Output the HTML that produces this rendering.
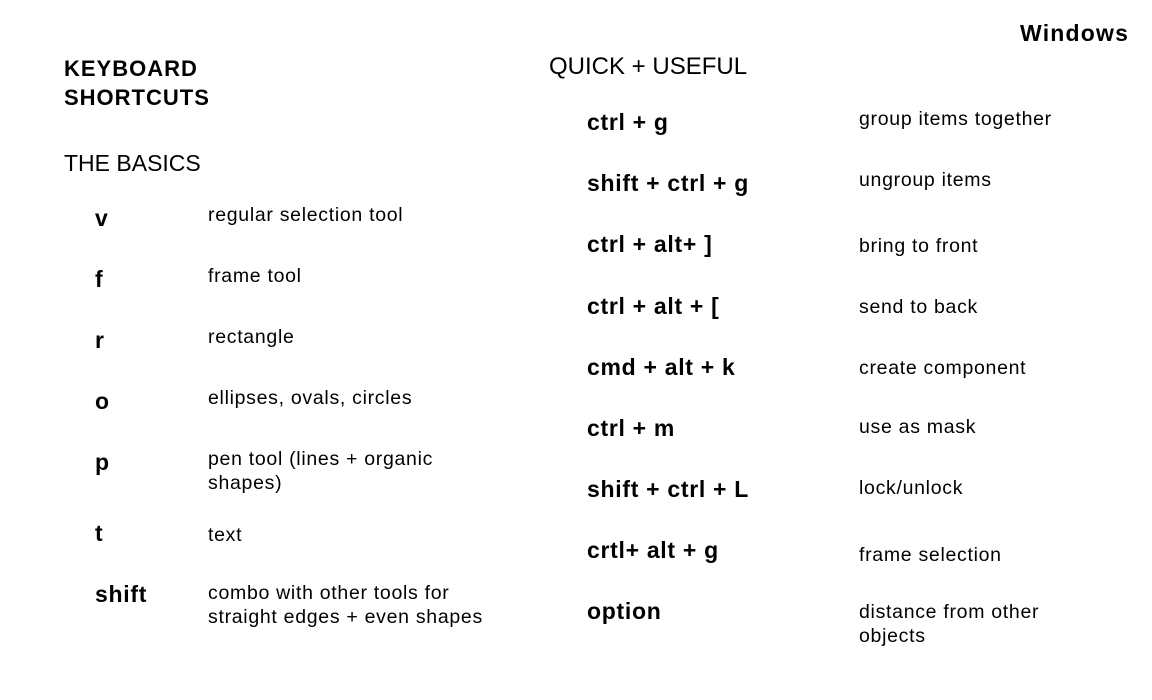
<!DOCTYPE html>
<html><head><meta charset="utf-8"><style>
body{margin:0;width:1152px;height:700px;background:#fff;position:relative;overflow:hidden;font-family:"Liberation Sans",Arial,sans-serif;color:#000}
.t{position:absolute;white-space:nowrap;line-height:24px}
.b{font-weight:bold}
.k{font-weight:bold;font-size:23px;letter-spacing:0.7px}
.d{font-size:19.5px;letter-spacing:0.7px}
</style></head><body>
<div class="t b" style="left:1020px;top:21px;font-size:23px;letter-spacing:1.2px">Windows</div>
<div class="t b" style="left:64px;top:54px;font-size:22px;line-height:29px;letter-spacing:1px">KEYBOARD<br>SHORTCUTS</div>
<div class="t" style="left:64px;top:151px;font-size:23px">THE BASICS</div>
<div class="t" style="left:549px;top:55px;font-size:24px">QUICK + USEFUL</div>

<div class="t k" style="left:95px;top:206px">v</div><div class="t d" style="left:208px;top:203px">regular selection tool</div>
<div class="t k" style="left:95px;top:267px">f</div><div class="t d" style="left:208px;top:264px">frame tool</div>
<div class="t k" style="left:95px;top:328px">r</div><div class="t d" style="left:208px;top:325px">rectangle</div>
<div class="t k" style="left:95px;top:389px">o</div><div class="t d" style="left:208px;top:386px">ellipses, ovals, circles</div>
<div class="t k" style="left:95px;top:450px">p</div><div class="t d" style="left:208px;top:447px">pen tool (lines + organic<br>shapes)</div>
<div class="t k" style="left:95px;top:521px">t</div><div class="t d" style="left:208px;top:523px">text</div>
<div class="t k" style="left:95px;top:582px">shift</div><div class="t d" style="left:208px;top:581px">combo with other tools for<br>straight edges + even shapes</div>

<div class="t k" style="left:587px;top:110px">ctrl + g</div><div class="t d" style="left:859px;top:107px">group items together</div>
<div class="t k" style="left:587px;top:171px">shift + ctrl + g</div><div class="t d" style="left:859px;top:168px">ungroup items</div>
<div class="t k" style="left:587px;top:232px">ctrl + alt+ ]</div><div class="t d" style="left:859px;top:234px">bring to front</div>
<div class="t k" style="left:587px;top:294px">ctrl + alt + [</div><div class="t d" style="left:859px;top:295px">send to back</div>
<div class="t k" style="left:587px;top:355px">cmd + alt + k</div><div class="t d" style="left:859px;top:356px">create component</div>
<div class="t k" style="left:587px;top:416px">ctrl + m</div><div class="t d" style="left:859px;top:415px">use as mask</div>
<div class="t k" style="left:587px;top:477px">shift + ctrl + L</div><div class="t d" style="left:859px;top:476px">lock/unlock</div>
<div class="t k" style="left:587px;top:538px">crtl+ alt + g</div><div class="t d" style="left:859px;top:543px">frame selection</div>
<div class="t k" style="left:587px;top:599px">option</div><div class="t d" style="left:859px;top:600px">distance from other<br>objects</div>
</body></html>
